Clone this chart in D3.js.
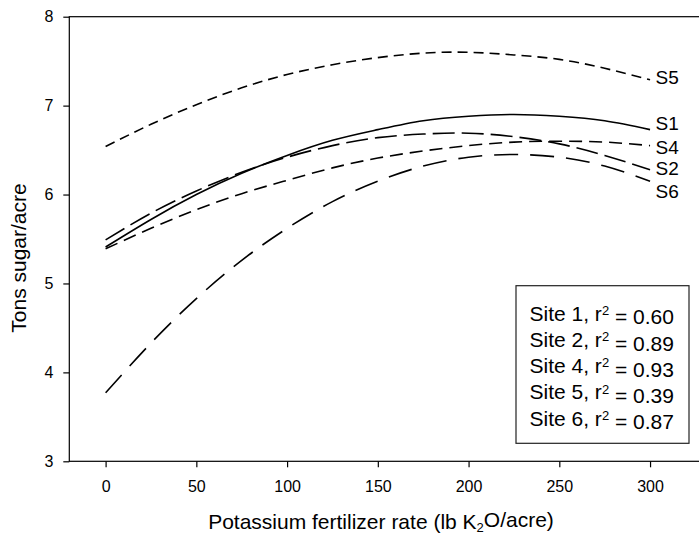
<html>
<meta charset="utf-8">
<style>

body { margin: 0; background: #fff; }

.line {
  fill: none;
  stroke: #000;
  stroke-width: 1.6px;
}

text { font-family: "Liberation Sans", Arial, sans-serif; fill: #000; }

.axis path, .axis line { stroke: #000; stroke-width: 1.2px; }

</style>
<body>

<script src="https://d3js.org/d3.v7.min.js"></script>
<script>

// fertilizer rates (lb K2O/acre)
var rates = [0, 25, 50, 75, 100, 125, 150, 175, 200, 225, 250, 275, 300];

// tons sugar/acre for each site
var site1 = [5.41, 5.72, 6.00, 6.24, 6.44, 6.61, 6.73, 6.83, 6.88, 6.90, 6.88, 6.83, 6.73];
var site2 = [5.49, 5.79, 6.04, 6.25, 6.42, 6.55, 6.64, 6.68, 6.69, 6.65, 6.57, 6.44, 6.28];
var site4 = [5.39, 5.62, 5.83, 6.01, 6.16, 6.30, 6.41, 6.49, 6.55, 6.59, 6.60, 6.59, 6.55];
var site5 = [6.54, 6.79, 7.01, 7.20, 7.35, 7.46, 7.54, 7.59, 7.60, 7.57, 7.52, 7.42, 7.29];
var site6 = [3.77, 4.33, 4.83, 5.26, 5.62, 5.92, 6.15, 6.32, 6.42, 6.45, 6.42, 6.32, 6.15];

// end labels and where they sit (tons/acre)
var endLabels = ["S5", "S1", "S4", "S2", "S6"];
var endLabelY = [7.32, 6.80, 6.535, 6.30, 6.04];

// legend entries
var legendSites = ["Site 1", "Site 2", "Site 4", "Site 5", "Site 6"];
var legendR2 = ["0.60", "0.89", "0.93", "0.39", "0.87"];

// tick values
var xTicks = [0, 50, 100, 150, 200, 250, 300];
var yTicks = [3, 4, 5, 6, 7, 8];

// set the dimensions and margins of the graph
var W = 699, H = 537;
var margin = {top: 16.7, left: 69.3},
    width = 635.2,
    height = 444.6;

var x = d3.scaleLinear().domain([-20, 330]).range([0, width]);
var y = d3.scaleLinear().domain([3, 8]).range([height, 0]);

var svg = d3.select("body").append("svg")
    .attr("width", W)
    .attr("height", H)
  .append("g")
    .attr("transform", "translate(" + margin.left + "," + margin.top + ")");

// frame (right side falls outside the picture)
svg.append("rect")
    .attr("width", width)
    .attr("height", height)
    .style("fill", "none")
    .style("stroke", "#000")
    .style("stroke-width", "1.2px");

// the axes
var xAxis = svg.append("g")
    .attr("class", "axis")
    .attr("transform", "translate(0," + height + ")")
    .call(d3.axisBottom(x).tickValues(xTicks).tickFormat(d3.format("d"))
      .tickSize(6).tickSizeOuter(0).tickPadding(13));

var yAxis = svg.append("g")
    .attr("class", "axis")
    .call(d3.axisLeft(y).tickValues(yTicks).tickFormat(d3.format("d"))
      .tickSize(6).tickSizeOuter(0).tickPadding(10));

xAxis.select(".domain").remove();
yAxis.select(".domain").remove();
svg.selectAll(".axis text")
    .style("font-size", "16px")
    .style("font-family", "'Liberation Sans', Arial, sans-serif");

// curves
var series = [
  {vals: site1, dash: null},
  {vals: site2, dash: "22,7"},
  {vals: site4, dash: "13,7"},
  {vals: site5, dash: "10,6"},
  {vals: site6, dash: "24,12"}
];

var valueline = d3.line()
    .x(function(d) { return x(d[0]); })
    .y(function(d) { return y(d[1]); })
    .curve(d3.curveNatural);

series.forEach(function(s) {
  svg.append("path")
      .datum(d3.zip(rates, s.vals))
      .attr("class", "line")
      .style("stroke-dasharray", s.dash)
      .attr("d", valueline);
});

// end labels
svg.selectAll(".endlabel")
    .data(endLabels)
  .enter().append("text")
    .attr("class", "endlabel")
    .attr("x", x(303))
    .attr("y", function(d, i) { return y(endLabelY[i]); })
    .attr("dy", "0.36em")
    .style("font-size", "19px")
    .text(function(d) { return d; });

// legend box
var lg = svg.append("g")
    .attr("transform", "translate(" + (516 - margin.left) + "," + (285.7 - margin.top) + ")");

lg.append("rect")
    .attr("width", 173)
    .attr("height", 157.6)
    .style("fill", "#fff")
    .style("stroke", "#222")
    .style("stroke-width", "1.2px");

legendSites.forEach(function(s, i) {
  var t = lg.append("text")
      .attr("x", 13.5)
      .attr("y", 35 + i * 26.25)
      .style("font-size", "21px");
  t.append("tspan").text(s + ", r");
  t.append("tspan")
      .attr("dy", "-0.45em")
      .style("font-size", "13px")
      .text("2");
  t.append("tspan")
      .attr("dy", "0.45em")
      .text(" = " + legendR2[i]);
});

// axis titles
var xt = svg.append("text")
    .attr("x", 381 - margin.left)
    .attr("y", 529 - margin.top)
    .attr("text-anchor", "middle")
    .style("font-size", "21px");
xt.append("tspan").text("Potassium fertilizer rate (lb K");
xt.append("tspan").attr("dy", "0.22em").style("font-size", "13px").text("2");
xt.append("tspan").attr("dy", "-0.22em").text("O/acre)");

svg.append("text")
    .attr("transform", "translate(" + (26 - margin.left) + "," + (258 - margin.top) + ") rotate(-90)")
    .attr("text-anchor", "middle")
    .style("font-size", "21px")
    .text("Tons sugar/acre");

</script>
</body>
</html>
